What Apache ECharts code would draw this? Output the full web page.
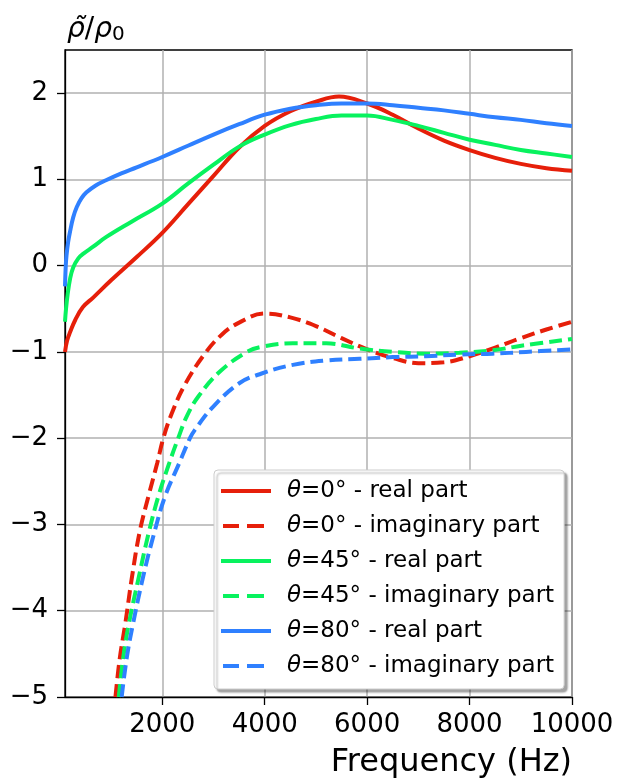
<!DOCTYPE html>
<html>
<head>
<meta charset="utf-8">
<script src="https://cdn.jsdelivr.net/npm/echarts@6/dist/echarts.min.js"></script>
<style>
  html, body { margin: 0; padding: 0; background: #fff; }
  #chart { width: 618px; height: 783px; }
</style>
</head>
<body>
<div id="chart"></div>
<script>
// values
const xTicks = [2000, 4000, 6000, 8000, 10000];
const yTicks = [-5, -4, -3, -2, -1, 0, 1, 2];

const freqRe0 = [100, 140, 200, 300, 450, 650, 1000, 1500, 2000, 2500, 3000, 3500, 4000, 4500, 5000, 5450, 6000, 6500, 7000, 7500, 8000, 8500, 9000, 9500, 10000];
const re0 = [-1.0, -0.87, -0.77, -0.63, -0.48, -0.37, -0.17, 0.10, 0.38, 0.71, 1.04, 1.37, 1.62, 1.79, 1.90, 1.96, 1.88, 1.75, 1.59, 1.45, 1.34, 1.25, 1.18, 1.13, 1.10];
const freqIm0 = [1085, 1170, 1280, 1400, 1560, 1740, 1900, 2020, 2180, 2440, 2830, 3160, 3500, 4000, 4500, 5000, 5500, 6000, 6500, 7000, 7500, 8000, 8500, 9000, 9500, 10000];
const im0 = [-5.0, -4.55, -4.14, -3.64, -3.08, -2.65, -2.29, -2.0, -1.72, -1.38, -1.02, -0.80, -0.66, -0.555, -0.60, -0.70, -0.84, -0.97, -1.07, -1.13, -1.12, -1.05, -0.95, -0.84, -0.74, -0.65];

const freqRe45 = [100, 120, 150, 200, 260, 360, 460, 650, 900, 1400, 2000, 2500, 3000, 3500, 4000, 4500, 5000, 5500, 6000, 6500, 7000, 7500, 8000, 8500, 9000, 9500, 10000];
const re45 = [-0.65, -0.50, -0.34, -0.15, -0.02, 0.085, 0.14, 0.22, 0.33, 0.51, 0.72, 0.95, 1.17, 1.38, 1.52, 1.63, 1.70, 1.74, 1.74, 1.69, 1.62, 1.54, 1.46, 1.40, 1.34, 1.30, 1.26];
const freqIm45 = [1150, 1240, 1350, 1530, 1725, 1920, 2135, 2310, 2475, 2700, 3120, 3650, 3940, 4550, 5200, 5850, 6500, 7150, 7800, 8450, 9100, 10000];
const im45 = [-5.0, -4.53, -4.14, -3.64, -3.12, -2.68, -2.29, -2.0, -1.75, -1.52, -1.23, -1.0, -0.94, -0.90, -0.90, -0.96, -1.0, -1.02, -1.01, -0.98, -0.92, -0.85];

const freqRe80 = [100, 115, 130, 160, 200, 260, 330, 420, 520, 700, 900, 1200, 1500, 2000, 2500, 3000, 3500, 4000, 4500, 5000, 5500, 6000, 6500, 7000, 7500, 8000, 8500, 9000, 9500, 10000];
const re80 = [-0.24, 0.0, 0.12, 0.27, 0.40, 0.56, 0.68, 0.78, 0.85, 0.93, 0.99, 1.07, 1.14, 1.26, 1.39, 1.52, 1.64, 1.75, 1.82, 1.86, 1.88, 1.88, 1.86, 1.83, 1.80, 1.76, 1.72, 1.69, 1.65, 1.62];
const freqIm80 = [1206, 1310, 1432, 1628, 1823, 2050, 2330, 2540, 2640, 3000, 3510, 3940, 4550, 5200, 5850, 6500, 7150, 7800, 8450, 9100, 10000];
const im80 = [-5.0, -4.53, -4.14, -3.60, -3.14, -2.68, -2.29, -2.0, -1.90, -1.63, -1.36, -1.25, -1.15, -1.10, -1.08, -1.06, -1.05, -1.03, -1.02, -1.0, -0.97];

const RED = '#E61F0A';
const GREEN = '#08F25E';
const BLUE = '#2F80FF';
const FONT = 'DejaVu Sans';

// legend handles: solid bar, or two dashes (trailing moveTo keeps the 50px width)
const ICON_SOLID = 'path://M0,0h50v3.8h-50z';
const ICON_DASH = 'path://M2,0h16v3.8h-16z M26,0h17v3.8h-17z M0,0 M50,3.8';

const pairs = (xs, ys) => xs.map((x, i) => [x, ys[i]]);

function makeSeries(name, xs, ys, color, dashed) {
  return {
    name: name,
    type: 'line',
    data: pairs(xs, ys),
    smooth: 0.4,
    symbol: 'none',
    clip: true,
    lineStyle: {
      color: color,
      width: 4,
      type: dashed ? [13, 6] : 'solid'
    },
    itemStyle: { color: color }
  };
}

const names = [
  'θ=0° - real part', 'θ=0° - imaginary part',
  'θ=45° - real part', 'θ=45° - imaginary part',
  'θ=80° - real part', 'θ=80° - imaginary part'
];

const chart = echarts.init(document.getElementById('chart'));

const option = {
  animation: false,
  backgroundColor: '#fff',
  title: {
    text: '{i|ρ̃}{n|/}{i|ρ}{s|0}',
    left: 62,
    top: 9,
    textStyle: {
      fontWeight: 'normal',
      rich: {
        i: { fontFamily: FONT, fontStyle: 'italic', fontWeight: 'normal', fontSize: 28, color: '#000' },
        n: { fontFamily: FONT, fontWeight: 'normal', fontSize: 28, color: '#000' },
        s: { fontFamily: FONT, fontWeight: 'normal', fontSize: 20, color: '#000', padding: [11, 0, 0, 0] }
      }
    }
  },
  grid: {
    left: 65,
    right: 46,
    top: 50,
    bottom: 86,
    show: true,
    borderColor: '#000',
    borderWidth: 1.3,
    backgroundColor: 'transparent'
  },
  legend: {
    orient: 'vertical',
    left: 214,
    top: 470,
    padding: [8, 10, 10, 7],
    itemWidth: 50,
    itemHeight: 3.8,
    itemGap: 9,
    backgroundColor: '#fff',
    borderColor: '#cccccc',
    borderWidth: 1,
    borderRadius: 4,
    shadowColor: 'rgba(0,0,0,0.35)',
    shadowBlur: 2,
    shadowOffsetX: 3,
    shadowOffsetY: 3,
    data: names.map((n, i) => ({ name: n, icon: i % 2 ? ICON_DASH : ICON_SOLID })),
    formatter: (name) => '{t|θ}{r|' + name.slice(1) + '}',
    textStyle: {
      fontFamily: FONT,
      fontSize: 23,
      color: '#000',
      lineHeight: 26,
      rich: {
        t: { fontFamily: FONT, fontStyle: 'italic', fontSize: 23, color: '#000', padding: [0, 0, 0, 11] },
        r: { fontFamily: FONT, fontSize: 23, color: '#000' }
      }
    }
  },
  xAxis: {
    type: 'value',
    min: 100,
    max: 10000,
    name: 'Frequency (Hz)',
    nameLocation: 'end',
    nameGap: 0,
    nameTextStyle: {
      fontFamily: FONT,
      fontSize: 32,
      color: '#000',
      align: 'right',
      verticalAlign: 'top',
      padding: [50, 0, 0, 0]
    },
    axisLine: { show: true, onZero: false, lineStyle: { color: '#000', width: 1.3 } },
    axisTick: { show: true, inside: false, length: 8, customValues: xTicks, lineStyle: { color: '#000', width: 1.3 } },
    axisLabel: {
      customValues: xTicks,
      margin: 15,
      fontFamily: FONT,
      fontSize: 26,
      color: '#000',
      formatter: (v) => String(v)
    },
    splitLine: { show: true, lineStyle: { color: '#b0b0b0', width: 1.5 } }
  },
  yAxis: {
    type: 'value',
    min: -5,
    max: 2.5,
    axisLine: { show: true, onZero: false, lineStyle: { color: '#000', width: 1.3 } },
    axisTick: { show: true, inside: false, length: 8, customValues: yTicks, lineStyle: { color: '#000', width: 1.3 } },
    axisLabel: {
      customValues: yTicks,
      margin: 17,
      fontFamily: FONT,
      fontSize: 26,
      color: '#000',
      formatter: (v) => String(v).replace('-', '\u2212')
    },
    splitLine: { show: true, lineStyle: { color: '#b0b0b0', width: 1.5 } }
  },
  series: [
    makeSeries(names[0], freqRe0, re0, RED, false),
    makeSeries(names[1], freqIm0, im0, RED, true),
    makeSeries(names[2], freqRe45, re45, GREEN, false),
    makeSeries(names[3], freqIm45, im45, GREEN, true),
    makeSeries(names[4], freqRe80, re80, BLUE, false),
    makeSeries(names[5], freqIm80, im80, BLUE, true)
  ]
};

chart.setOption(option);
</script>
</body>
</html>
